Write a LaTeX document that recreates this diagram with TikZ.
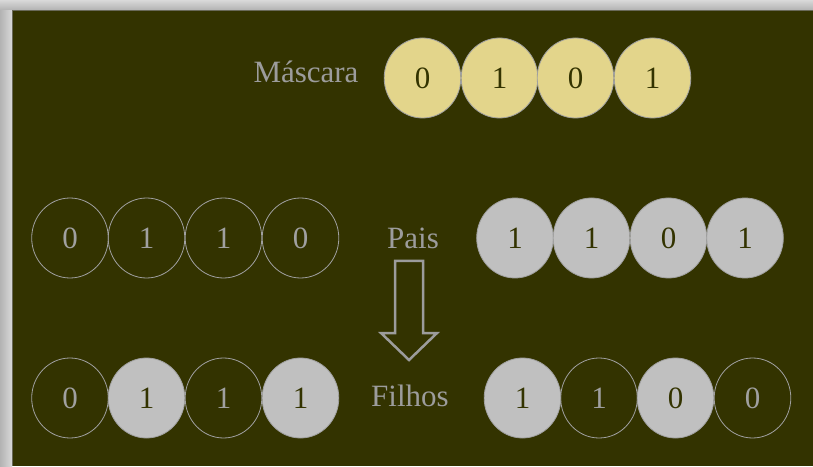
\documentclass[tikz,border=0pt]{standalone}
\usepackage{fontspec}
\setmainfont{Liberation Serif}
\usetikzlibrary{shapes.geometric}
\definecolor{bg}{HTML}{333300}
\definecolor{maskfill}{HTML}{E3D58B}
\definecolor{grayfill}{HTML}{C0C0C0}
\definecolor{edge}{HTML}{A0A0A0}
\definecolor{lbl}{HTML}{9C9C9C}
\tikzset{
  bit/.style={ellipse, minimum width=76.6pt, minimum height=80pt, inner sep=0pt,
    draw=edge, line width=0.8pt, font=\fontsize{31}{36}\selectfont},
  maskbit/.style={bit, fill=maskfill, text=bg},
  fullbit/.style={bit, fill=grayfill, text=bg},
  emptybit/.style={bit, text=edge},
  lab/.style={text=lbl, font=\fontsize{31}{36}\selectfont, inner sep=0pt}
}
\begin{document}
\begin{tikzpicture}[x=1pt,y=1pt]
\useasboundingbox (0,0) rectangle (813,466);
% frame
\fill[left color=gray!60, right color=gray!30] (0,0) rectangle (12,466);
\fill[top color=gray!30, bottom color=gray!60] (0,456) rectangle (813,466);
\fill[bg] (12,0) rectangle (813,456);
\draw[color=gray!70!bg, line width=1pt] (12.5,0) -- (12.5,455.5) -- (813,455.5);
% mask
\node[lab, anchor=base] (mlab) at (306,383) {Máscara};
\node[maskbit] (m1) at (422.5,388) {0};
\node[maskbit] (m2) at (499.5,388) {1};
\node[maskbit] (m3) at (575.5,388) {0};
\node[maskbit] (m4) at (652.5,388) {1};
% parents
\node[emptybit] (a1) at (70,228) {0};
\node[emptybit] (a2) at (146.5,228) {1};
\node[emptybit] (a3) at (223.5,228) {1};
\node[emptybit] (a4) at (300.5,228) {0};
\node[lab, anchor=base] (plab) at (413,217) {Pais};
\node[fullbit] (b1) at (515,228) {1};
\node[fullbit] (b2) at (591.5,228) {1};
\node[fullbit] (b3) at (668.5,228) {0};
\node[fullbit] (b4) at (745,228) {1};
% arrow
\draw[lbl, line width=2.5pt, line join=miter]
  (395,205) -- (423,205) -- (423,133) -- (437,133) -- (409,106) -- (381,133) -- (395,133) -- cycle;
% children
\node[emptybit] (c1) at (70,68) {0};
\node[fullbit] (c2) at (146.5,68) {1};
\node[emptybit] (c3) at (223.5,68) {1};
\node[fullbit] (c4) at (300.5,68) {1};
\node[lab, anchor=base] (flab) at (410,60) {Filhos};
\node[fullbit] (d1) at (522.5,68) {1};
\node[emptybit] (d2) at (599,68) {1};
\node[fullbit] (d3) at (675.5,68) {0};
\node[emptybit] (d4) at (752.5,68) {0};
\end{tikzpicture}
\end{document}
